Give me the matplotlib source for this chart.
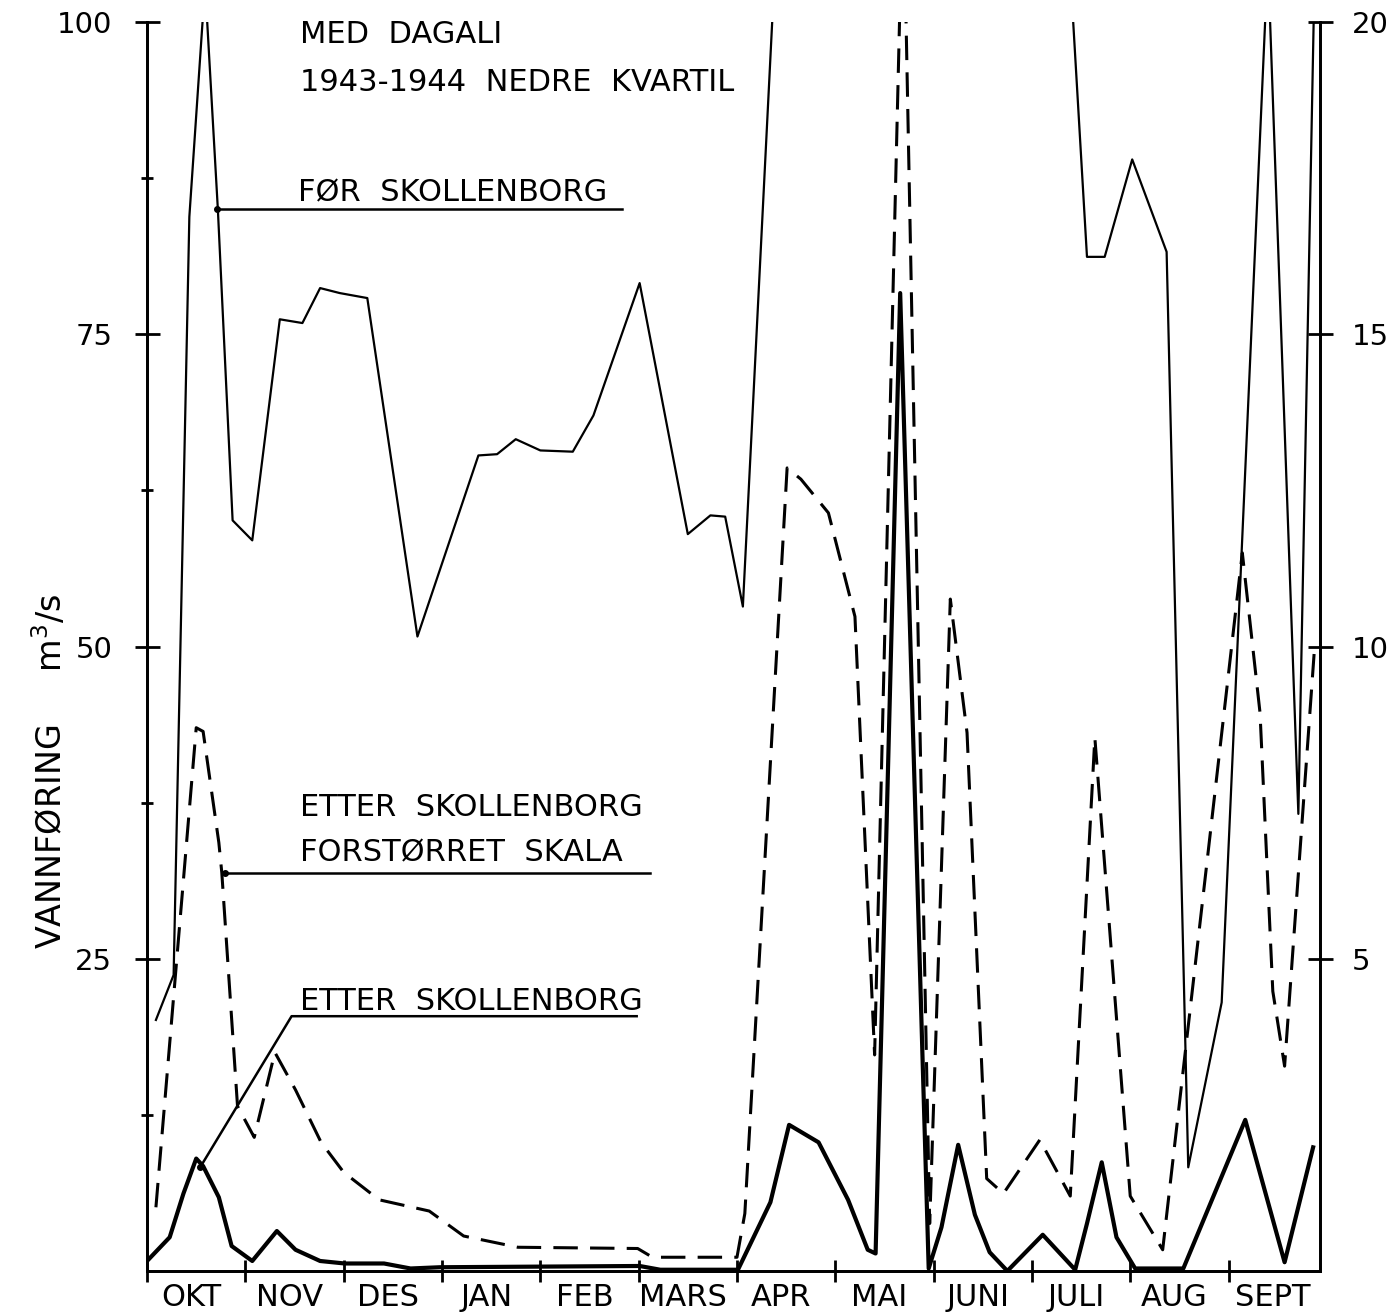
import numpy as np
import matplotlib
matplotlib.use("Agg")
import matplotlib.pyplot as plt

plt.rcParams['font.family'] = ['DejaVu Sans']

months = ["OKT", "NOV", "DES", "JAN", "FEB", "MARS",
          "APR", "MAI", "JUNI", "JULI", "AUG", "SEPT"]

# FØR SKOLLENBORG, venstre skala (m3/s), går ut av arket i flommen
for_x = [0.09, 0.27, 0.43, 0.59, 0.72, 0.87, 1.07, 1.35, 1.58, 1.76, 1.96, 2.24,
         2.75, 3.37, 3.56, 3.75, 4.00, 4.33, 4.54, 5.01, 5.50, 5.73, 5.88, 6.06,
         6.39, 7.5, 9.39, 9.56, 9.74, 10.02, 10.37, 10.59, 10.93, 11.40, 11.71, 11.89]
for_y = [20.1, 23.7, 84.4, 103, 85.0, 60.1, 58.5, 76.2, 75.9, 78.7, 78.3, 77.9,
         50.8, 65.3, 65.4, 66.6, 65.7, 65.6, 68.5, 79.1, 59.0, 60.5, 60.4, 53.2,
         105, np.nan, 104, 81.2, 81.2, 89.0, 81.6, 8.3, 21.5, 105, 36.6, 110]

# ETTER SKOLLENBORG, forstørret skala (høyre akse 0-20)
stor_x = [0.09, 0.50, 0.57, 0.73, 0.76, 0.92, 1.09, 1.30, 1.51, 1.77, 2.00, 2.36,
          2.87, 3.22, 3.77, 4.99, 5.14, 6.00, 6.08, 6.51, 6.65, 6.93, 7.20, 7.40,
          7.69, 7.96, 8.17, 8.34, 8.54, 8.71, 9.08, 9.39, 9.64, 10.00, 10.33, 11.14,
          11.32, 11.45, 11.57, 11.87]
stor_y = [1.02, 8.70, 8.64, 6.86, 6.38, 2.64, 2.14, 3.50, 2.90, 2.06, 1.58, 1.14,
          0.96, 0.56, 0.38, 0.36, 0.22, 0.22, 0.92, 12.86, 12.68, 12.14, 10.48, 3.46,
          22.4, 0.76, 10.76, 8.62, 1.48, 1.24, 2.10, 1.20, 8.54, 1.20, 0.34, 11.50,
          8.94, 4.48, 3.28, 9.88]

# ETTER SKOLLENBORG, venstre skala
etter_x = [0.00, 0.23, 0.37, 0.50, 0.57, 0.73, 0.86, 1.07, 1.32, 1.51, 1.76, 2.01,
           2.41, 2.68, 2.98, 5.01, 5.22, 6.01, 6.34, 6.53, 6.83, 7.13, 7.33, 7.41,
           7.66, 7.95, 8.08, 8.25, 8.42, 8.57, 8.75, 9.11, 9.44, 9.56, 9.71, 9.86,
           10.05, 10.54, 11.17, 11.57, 11.86]
etter_y = [0.8, 2.7, 6.2, 9.0, 8.4, 5.9, 2.0, 0.8, 3.2, 1.7, 0.8, 0.6,
           0.6, 0.2, 0.3, 0.4, 0.1, 0.1, 5.5, 11.7, 10.3, 5.7, 1.7, 1.4,
           78.3, 0.2, 3.5, 10.1, 4.5, 1.5, 0.0, 2.9, 0.1, 3.8, 8.7, 2.7,
           0.2, 0.2, 12.1, 0.7, 9.9]

fig = plt.figure(figsize=(13.98, 13.13), dpi=100)
ax = fig.add_axes([0.1052, 0.032, 0.839, 0.9512])
ax2 = ax.twinx()

ax.plot(for_x, for_y, color='black', lw=1.6)
ax.plot(etter_x, etter_y, color='black', lw=3.0)
ln, = ax2.plot(stor_x, stor_y, color='black', lw=2.2)
ln.set_dashes([8, 4])

ax.set_xlim(0, 11.93)
ax.set_ylim(0, 100)
ax2.set_ylim(0, 20)

fs = 22
ax.set_yticks([25, 50, 75, 100])
ax.set_yticks([12.5, 37.5, 62.5, 87.5], minor=True)
ax.tick_params(axis='y', which='major', direction='inout', length=18, width=2,
               labelsize=21, pad=16)
ax.tick_params(axis='y', which='minor', direction='inout', length=8, width=2)
ax2.set_yticks([5, 10, 15, 20])
ax2.tick_params(axis='y', direction='inout', length=18, width=2,
                labelsize=21, pad=14)

ax.set_xticks(range(12))
ax.set_xticklabels([])
ax.set_xticks(np.arange(12) + 0.45, minor=True)
ax.set_xticklabels(months, minor=True, fontsize=fs)
ax.tick_params(axis='x', which='major', direction='inout', length=16, width=2)
ax.tick_params(axis='x', which='minor', length=0, pad=9)

for a in (ax, ax2):
    a.spines['top'].set_visible(False)
    for s in ('left', 'right', 'bottom'):
        a.spines[s].set_linewidth(2)

# tekster og henvisningslinjer
ax.text(1.56, 98.3, "MED  DAGALI", fontsize=fs)
ax.text(1.56, 94.5, "1943-1944  NEDRE  KVARTIL", fontsize=fs)

ax.text(1.54, 85.6, "FØR  SKOLLENBORG", fontsize=fs)
ax.plot([0.71, 4.83], [85.0, 85.0], color='black', lw=1.8)
ax.plot([0.71], [85.0], 'o', color='black', ms=4)

ax.text(1.56, 36.4, "ETTER  SKOLLENBORG", fontsize=fs)
ax.text(1.56, 32.8, "FORSTØRRET  SKALA", fontsize=fs)
ax.plot([0.79, 5.12], [31.9, 31.9], color='black', lw=1.8)
ax.plot([0.79], [31.9], 'o', color='black', ms=4)

ax.text(1.56, 20.9, "ETTER  SKOLLENBORG", fontsize=fs)
ax.plot([0.54, 1.47, 4.98], [8.3, 20.4, 20.4], color='black', lw=1.8)
ax.plot([0.54], [8.3], 'o', color='black', ms=4)

fig.text(0.036, 0.413, "VANNFØRING     m$^3$/s", rotation=90, fontsize=24,
         ha='center', va='center')

fig.savefig("out.png", dpi=100, facecolor='white')
